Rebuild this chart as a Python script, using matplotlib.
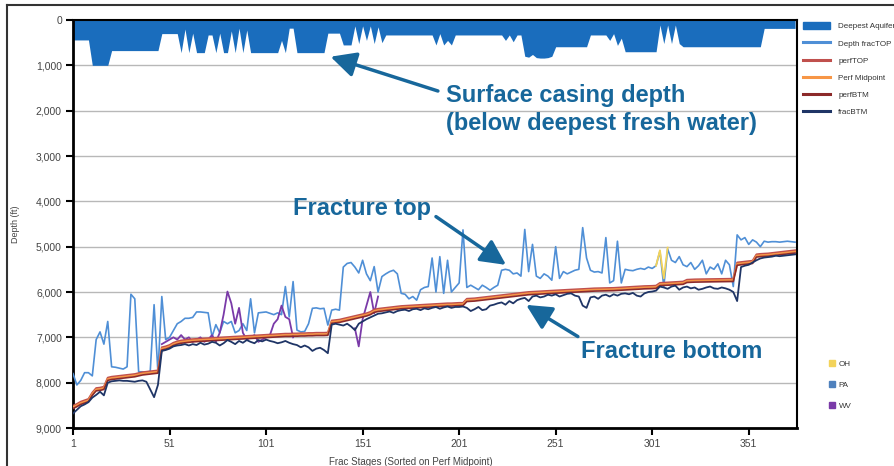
import matplotlib.pyplot as plt
import numpy as np
from matplotlib.lines import Line2D
from matplotlib.patches import Patch

plt.rcParams['font.family'] = ['Liberation Sans', 'DejaVu Sans']

# frac stages (read every second stage, 1..375)
stages = np.arange(1, 376, 2)

# deepest aquifer / surface casing depth (ft)
aquifer = [
    440, 440, 440, 440, 440, 1000, 1000, 1000, 1000, 1000,
    675, 675, 675, 675, 675, 675, 675, 675, 675, 675,
    675, 675, 675, 300, 300, 300, 300, 300, 720, 200,
    720, 290, 720, 720, 720, 330, 330, 720, 290, 720,
    720, 240, 720, 180, 720, 220, 720, 720, 720, 720,
    720, 720, 720, 720, 450, 720, 180, 180, 720, 720,
    720, 720, 720, 720, 720, 720, 290, 290, 290, 290,
    550, 550, 550, 130, 520, 130, 450, 130, 520, 150,
    500, 330, 330, 330, 330, 330, 330, 330, 330, 330,
    330, 330, 330, 330, 550, 300, 550, 450, 550, 330,
    330, 330, 330, 330, 330, 330, 330, 330, 330, 330,
    330, 330, 450, 330, 480, 330, 330, 800, 820, 760,
    830, 840, 840, 830, 800, 590, 590, 590, 590, 590,
    590, 590, 590, 590, 330, 330, 330, 330, 330, 450,
    300, 560, 400, 700, 700, 700, 700, 700, 700, 700,
    700, 700, 110, 520, 110, 520, 110, 520, 590, 590,
    590, 590, 590, 590, 590, 590, 590, 590, 590, 590,
    590, 590, 590, 590, 590, 590, 590, 590, 590, 185,
    185, 185, 185, 185, 185, 185, 185, 185,
]

frac_top = [
    7800, 8050, 7950, 7780, 7780, 7850, 7050, 6880, 7150, 6650,
    7650, 7660, 7680, 7700, 7650, 6050, 6150, 7760, 7760, 7770,
    7750, 6280, 7780, 6100, 7050, 7000, 6850, 6700, 6650, 6580,
    6580, 6560, 6440, 6440, 6450, 6460, 6990, 6720, 6900, 6650,
    6700, 6650, 6900, 6850, 6700, 6850, 6150, 6900, 6460, 6450,
    6440, 6470, 6500, 6460, 6500, 5880, 6550, 5770, 6840, 6880,
    6870, 6700, 6360, 6350, 6370, 6360, 6730, 6400, 6380, 6400,
    5450, 5370, 5350, 5450, 5580, 5300, 5600, 5750, 5440, 6000,
    5660, 5600, 5550, 5520, 5600, 6030, 6050, 6150, 6100, 6180,
    5950, 5900, 5880, 5250, 6000, 5220, 6030, 5300, 6000, 5900,
    5800, 4630, 5900, 5850, 5900, 5950, 5850, 5900, 5960, 5900,
    5850, 5520, 5500, 5520, 5600, 5580, 5650, 4620, 5550, 4950,
    5650, 5700, 5600, 5650, 5740, 5000, 5700, 5550, 5600, 5560,
    5520, 5500, 4580, 5250, 5520, 5560, 5550, 5580, 4800, 5800,
    5750, 4880, 5800, 5500, 5520, 5530, 5500, 5480, 5500, 5450,
    5480, 5420, 5100, 5880, 5050, 5300, 5350, 5220, 5400, 5440,
    5350, 5500, 5420, 5300, 5600, 5450, 5500, 5380, 5600, 5300,
    5400, 5880, 4740, 4850, 4800, 4950, 4850, 4900, 5000, 4880,
    4900, 4890, 4890, 4900, 4890, 4880, 4890, 4900,
]

perf_top = [
    8510, 8470, 8420, 8390, 8360, 8220, 8120, 8110, 8090, 7890,
    7870, 7860, 7850, 7840, 7830, 7820, 7810, 7790, 7770, 7760,
    7750, 7740, 7730, 7220, 7200, 7170, 7120, 7090, 7070, 7060,
    7050, 7040, 7035, 7030, 7025, 7020, 7015, 7010, 7005, 7000,
    6995, 6990, 6985, 6980, 6975, 6970, 6965, 6960, 6955, 6950,
    6945, 6940, 6935, 6930, 6925, 6920, 6920, 6915, 6915, 6910,
    6910, 6905, 6905, 6900, 6900, 6900, 6895, 6630, 6620, 6610,
    6590, 6570, 6550, 6530, 6510, 6490, 6470, 6440, 6390, 6370,
    6360, 6350, 6340, 6330, 6320, 6310, 6305, 6300, 6295, 6290,
    6285, 6280, 6275, 6270, 6265, 6260, 6255, 6250, 6250, 6245,
    6240, 6240, 6150, 6145, 6140, 6130, 6120, 6110, 6100, 6090,
    6080, 6070, 6060, 6050, 6040, 6030, 6020, 6010, 6000, 5995,
    5990, 5985, 5980, 5975, 5970, 5965, 5960, 5955, 5952, 5948,
    5945, 5940, 5935, 5930, 5925, 5920, 5918, 5916, 5914, 5912,
    5910, 5905, 5900, 5895, 5890, 5885, 5880, 5875, 5870, 5868,
    5865, 5860, 5800, 5795, 5790, 5785, 5780, 5775, 5770, 5730,
    5725, 5722, 5720, 5720, 5718, 5716, 5715, 5715, 5713, 5710,
    5710, 5708, 5350, 5340, 5330, 5320, 5310, 5170, 5160, 5155,
    5150, 5140, 5130, 5120, 5110, 5100, 5090, 5080,
]

perf_btm = [
    8570, 8530, 8480, 8450, 8420, 8280, 8180, 8170, 8150, 7950,
    7930, 7920, 7910, 7900, 7890, 7880, 7870, 7850, 7830, 7820,
    7810, 7800, 7790, 7280, 7260, 7230, 7180, 7150, 7130, 7120,
    7110, 7100, 7095, 7090, 7085, 7080, 7075, 7070, 7065, 7060,
    7055, 7050, 7045, 7040, 7035, 7030, 7025, 7020, 7015, 7010,
    7005, 7000, 6995, 6990, 6985, 6980, 6980, 6975, 6975, 6970,
    6970, 6965, 6965, 6960, 6960, 6960, 6955, 6690, 6680, 6670,
    6650, 6630, 6610, 6590, 6570, 6550, 6530, 6500, 6450, 6430,
    6420, 6410, 6400, 6390, 6380, 6370, 6365, 6360, 6355, 6350,
    6345, 6340, 6335, 6330, 6325, 6320, 6315, 6310, 6310, 6305,
    6300, 6300, 6210, 6205, 6200, 6190, 6180, 6170, 6160, 6150,
    6140, 6130, 6120, 6110, 6100, 6090, 6080, 6070, 6060, 6055,
    6050, 6045, 6040, 6035, 6030, 6025, 6020, 6015, 6012, 6008,
    6005, 6000, 5995, 5990, 5985, 5980, 5978, 5976, 5974, 5972,
    5970, 5965, 5960, 5955, 5950, 5945, 5940, 5935, 5930, 5928,
    5925, 5920, 5860, 5855, 5850, 5845, 5840, 5835, 5830, 5790,
    5785, 5782, 5780, 5780, 5778, 5776, 5775, 5775, 5773, 5770,
    5770, 5768, 5410, 5400, 5390, 5380, 5370, 5230, 5220, 5215,
    5210, 5200, 5190, 5180, 5170, 5160, 5150, 5140,
]

frac_btm = [
    8680, 8600, 8520, 8480, 8430, 8330, 8270, 8200, 8280, 8000,
    7970, 7960, 7950, 7960, 7960, 7970, 7980, 7960, 7950, 7980,
    8150, 8320, 8050, 7300, 7280, 7250, 7200, 7180, 7170, 7150,
    7180, 7150, 7170, 7120, 7160, 7140, 7100, 7120, 7180, 7130,
    7060, 7100, 7150, 7080, 7120, 7060, 7100, 7130, 7060, 7090,
    7050, 7080, 7100, 7130, 7110, 7080, 7120, 7150, 7170, 7220,
    7180, 7220, 7300, 7250, 7230, 7280, 7350, 6720, 6700, 6720,
    6740, 6700, 6760, 6840, 6700, 6650, 6600, 6560, 6520, 6480,
    6470, 6450, 6430, 6460, 6420, 6400, 6390, 6420, 6380, 6370,
    6400, 6360, 6380, 6350, 6330, 6370, 6340, 6320, 6350, 6330,
    6330, 6320, 6350, 6420, 6380, 6330, 6400, 6380, 6300, 6280,
    6250, 6230, 6280, 6200, 6250, 6180, 6150, 6130, 6200, 6100,
    6080, 6120, 6100, 6060, 6080, 6050, 6100, 6070, 6040, 6030,
    6080, 6100, 6300, 6350, 6120, 6100, 6150, 6080, 6060, 6100,
    6050, 6080, 6040, 6030, 6050, 6020, 6080, 6100, 6030, 6000,
    5990, 5970, 5880, 5900, 5930, 5880, 5860, 5950, 5900, 5880,
    5920, 5900, 5950, 5930, 5900, 5880, 5920, 5930, 5900, 5920,
    5950, 6000, 6200, 5450, 5420, 5400, 5350, 5300, 5260, 5240,
    5230, 5220, 5200, 5210, 5200, 5190, 5180, 5170,
]

# frac top of WV and OH wells (drawn over the PA line)
wv_stages = [47, 49, 51, 53, 55, 57, 59, 61, 63, 65, 67, 69, 71, 73, 75, 77, 79, 81,
             83, 85, 87, 89, 91, 93, 95, 97, 99, 101, 103, 105, 107, 109, 111, 113, 115,
             147, 149, 151, 153, 155, 157, 159]
wv_top = [7150, 7100, 7050, 7000, 7050, 6950, 7050, 7000, 7100, 7050, 7000, 7100, 7050,
          6950, 7100, 6900, 6500, 5990, 6250, 6700, 6350, 6900, 7050, 7000, 6950, 7100,
          7050, 7000, 6950, 6700, 6600, 6300, 6550, 6600, 7000,
          6800, 7200, 6600, 6300, 6000, 6470, 6100]
oh_stages = [303, 305, 307, 309]
oh_top = [5420, 5080, 5700, 5020]

depth_ticks = [0, 1000, 2000, 3000, 4000, 5000, 6000, 7000, 8000, 9000]
depth_labels = ['0', '1,000', '2,000', '3,000', '4,000', '5,000', '6,000', '7,000', '8,000', '9,000']
stage_ticks = [1, 51, 101, 151, 201, 251, 301, 351]

c_aquifer = '#1a6dbd'
c_fractop = '#4f8fd6'
c_perftop = '#c0504d'
c_perfmid = '#f79646'
c_perfbtm = '#8c2a2a'
c_fracbtm = '#1f3566'
c_wv = '#7a3aa8'
c_oh = '#f3d35a'
c_pa = '#4f81bd'
c_note = '#17679b'

perf_mid = (np.array(perf_top) + np.array(perf_btm)) / 2

fig = plt.figure(figsize=(8.95, 4.66), dpi=100)
ax = fig.add_axes([73 / 895, 1 - 428 / 466, 724 / 895, 408 / 466])

ax.fill_between(stages, 0, aquifer, color=c_aquifer, lw=0, zorder=2)
ax.plot(stages, frac_top, color=c_fractop, lw=1.2, zorder=3)

# WV wells come in two groups, break the line between them
wv_x = np.array(wv_stages, dtype=float)
wv_y = np.array(wv_top, dtype=float)
gap = np.where(np.diff(wv_x) > 2)[0] + 1
ax.plot(np.insert(wv_x, gap, np.nan), np.insert(wv_y, gap, np.nan), color=c_wv, lw=1.3, zorder=3)
ax.plot(oh_stages, oh_top, color=c_oh, lw=1.3, zorder=3)

ax.plot(stages, perf_top, color=c_perftop, lw=1.4, zorder=4)
ax.plot(stages, perf_mid, color=c_perfmid, lw=1.4, zorder=4)
ax.plot(stages, perf_btm, color=c_perfbtm, lw=1.2, zorder=4)
ax.plot(stages, frac_btm, color=c_fracbtm, lw=1.3, zorder=4)

ax.set_xlim(1, 376)
ax.set_ylim(9000, 0)
ax.set_yticks(depth_ticks)
ax.set_yticklabels(depth_labels)
ax.set_xticks(stage_ticks)
ax.yaxis.grid(True, color='#b8b8b8', lw=1)
ax.set_axisbelow(True)
ax.tick_params(axis='both', labelsize=7.5, labelcolor='#444444', length=5, width=1.5,
               direction='out', pad=3)
for side in ['left', 'bottom']:
    ax.spines[side].set_linewidth(2)
for side in ['top', 'right']:
    ax.spines[side].set_linewidth(1.5)

ax.set_ylabel('Depth (ft)', fontsize=6.5, color='#444444')
ax.yaxis.set_label_coords(-0.073, 0.5)
ax.set_xlabel('Frac Stages (Sorted on Perf Midpoint)', fontsize=7, color='#444444')
ax.xaxis.set_label_coords(0.467, -0.07)

# callouts
arrow = dict(arrowstyle='-|>,head_length=0.9,head_width=0.45', color=c_note, lw=2.5,
             shrinkA=0, shrinkB=0, mutation_scale=17)
ax.annotate('', xy=(134.4, 810), xytext=(190, 1566), arrowprops=arrow, zorder=6)
ax.text(194.1, 1808, 'Surface casing depth', fontsize=17, fontweight='bold', color=c_note, va='baseline')
ax.text(194.1, 2425, '(below deepest fresh water)', fontsize=17, fontweight='bold', color=c_note, va='baseline')

ax.annotate('', xy=(225.3, 5402), xytext=(189, 4337), arrowprops=arrow, zorder=6)
ax.text(114.7, 4311, 'Fracture top', fontsize=17, fontweight='bold', color=c_note, va='baseline')

ax.annotate('', xy=(235.7, 6284), xytext=(262.5, 6983), arrowprops=arrow, zorder=6)
ax.text(264.2, 7464, 'Fracture bottom', fontsize=17, fontweight='bold', color=c_note, va='baseline')

# series legend
handles = [Patch(color=c_aquifer),
           Line2D([], [], color=c_fractop, lw=2.2),
           Line2D([], [], color=c_perftop, lw=2.2),
           Line2D([], [], color=c_perfmid, lw=2.2),
           Line2D([], [], color=c_perfbtm, lw=2.2),
           Line2D([], [], color=c_fracbtm, lw=2.2)]
labels = ['Deepest Aquifer', 'Depth fracTOP', 'perfTOP', 'Perf Midpoint', 'perfBTM', 'fracBTM']
fig.legend(handles, labels, loc='upper left', bbox_to_anchor=(803 / 895, 1 - 22 / 466),
           frameon=False, fontsize=5.8, handlelength=3.35, handleheight=1.0, handletextpad=1.0,
           labelspacing=1.1, borderpad=0, borderaxespad=0, labelcolor='#333333')

# state legend
state_handles = [Line2D([], [], ls='', marker='s', ms=4, color=c) for c in [c_oh, c_pa, c_wv]]
fig.legend(state_handles, ['OH', 'PA', 'WV'], loc='upper left', bbox_to_anchor=(829 / 895, 1 - 360 / 466),
           frameon=False, fontsize=5.8, handlelength=0.8, handletextpad=0.4,
           labelspacing=1.65, borderpad=0, borderaxespad=0, labelcolor='#333333')

# outer frame of the figure panel
fig.add_artist(Line2D([7 / 895, 7 / 895], [0, 1 - 5 / 466], color='#333333', lw=1.5))
fig.add_artist(Line2D([7 / 895, 1], [1 - 5 / 466, 1 - 5 / 466], color='#333333', lw=1.5))

fig.savefig('out.png', dpi=100)
